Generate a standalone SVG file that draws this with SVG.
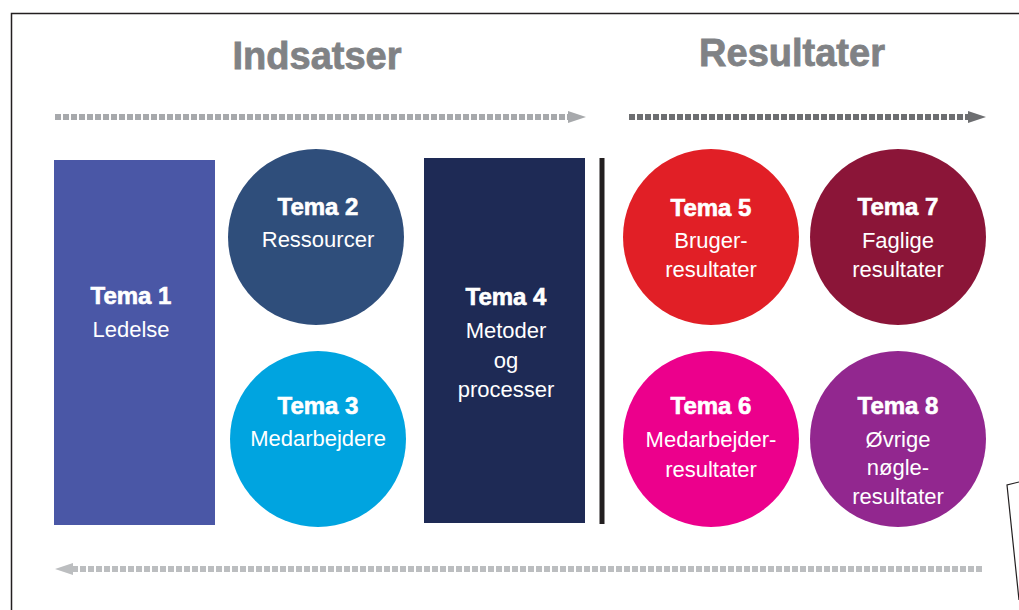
<svg xmlns="http://www.w3.org/2000/svg" width="1019" height="610" viewBox="0 0 1019 610">
<style>
.t{font-family:"Liberation Sans",Arial,sans-serif;font-weight:bold;font-size:24px;fill:#fff;text-anchor:middle;stroke:#fff;stroke-width:0.6}
.s{font-family:"Liberation Sans",Arial,sans-serif;font-size:22px;fill:#fff;text-anchor:middle}
.h{font-family:"Liberation Sans",Arial,sans-serif;font-weight:bold;font-size:38px;fill:#808285;text-anchor:middle;stroke:#808285;stroke-width:0.8}
</style>
<rect x="0" y="0" width="1019" height="610" fill="#fff"/>
<path d="M11.5 620 V13.5 H1030" fill="none" stroke="#231f20" stroke-width="1.5"/>
<path d="M1019 482 L1007 485 L1019 600" fill="none" stroke="#231f20" stroke-width="1.2"/>
<text class="h" x="317" y="69">Indsatser</text>
<text class="h" x="792" y="66">Resultater</text>
<g id="connectors">
<line x1="55" y1="117" x2="570" y2="117" stroke="#a7a9ac" stroke-width="6" stroke-dasharray="6 2"/>
<polygon points="568,111 586,117 568,123" fill="#a7a9ac"/>
<line x1="629" y1="117" x2="970" y2="117" stroke="#6d6e71" stroke-width="6" stroke-dasharray="6 2"/>
<polygon points="968,111 986,117 968,123" fill="#6d6e71"/>
<line x1="72" y1="569" x2="983" y2="569" stroke="#bcbec0" stroke-width="6" stroke-dasharray="6 2"/>
<polygon points="73,563 55,569 73,575" fill="#bcbec0"/>
<line x1="602" y1="158" x2="602" y2="524" stroke="#231f20" stroke-width="5"/>
</g>
<g id="tema1"><rect x="54" y="160" width="161" height="365" fill="#4a57a6"/>
<text class="t" x="131" y="304">Tema 1</text><text class="s" x="131" y="337">Ledelse</text></g>
<g id="tema2"><circle cx="316" cy="237" r="88" fill="#2f4e7b"/>
<text class="t" x="318" y="215">Tema 2</text><text class="s" x="318" y="247">Ressourcer</text></g>
<g id="tema3"><circle cx="318" cy="439" r="88" fill="#00a4e0"/>
<text class="t" x="318" y="414">Tema 3</text><text class="s" x="318" y="446">Medarbejdere</text></g>
<g id="tema4"><rect x="424" y="158" width="161" height="365" fill="#1e2a55"/>
<text class="t" x="506" y="305">Tema 4</text><text class="s" x="506" y="338">Metoder</text><text class="s" x="506" y="368">og</text><text class="s" x="506" y="397">processer</text></g>
<g id="tema5"><circle cx="711" cy="237" r="88" fill="#e11f26"/>
<text class="t" x="711" y="216">Tema 5</text><text class="s" x="711" y="248">Bruger-</text><text class="s" x="711" y="277">resultater</text></g>
<g id="tema7"><circle cx="898" cy="237" r="88" fill="#8b1538"/>
<text class="t" x="898" y="215">Tema 7</text><text class="s" x="898" y="248">Faglige</text><text class="s" x="898" y="277">resultater</text></g>
<g id="tema6"><circle cx="711" cy="439" r="88" fill="#ec008c"/>
<text class="t" x="711" y="414">Tema 6</text><text class="s" x="711" y="447">Medarbejder-</text><text class="s" x="711" y="477">resultater</text></g>
<g id="tema8"><circle cx="898" cy="439" r="88" fill="#92278f"/>
<text class="t" x="898" y="414">Tema 8</text><text class="s" x="898" y="447">Øvrige</text><text class="s" x="898" y="475">nøgle-</text><text class="s" x="898" y="504">resultater</text></g>
</svg>
